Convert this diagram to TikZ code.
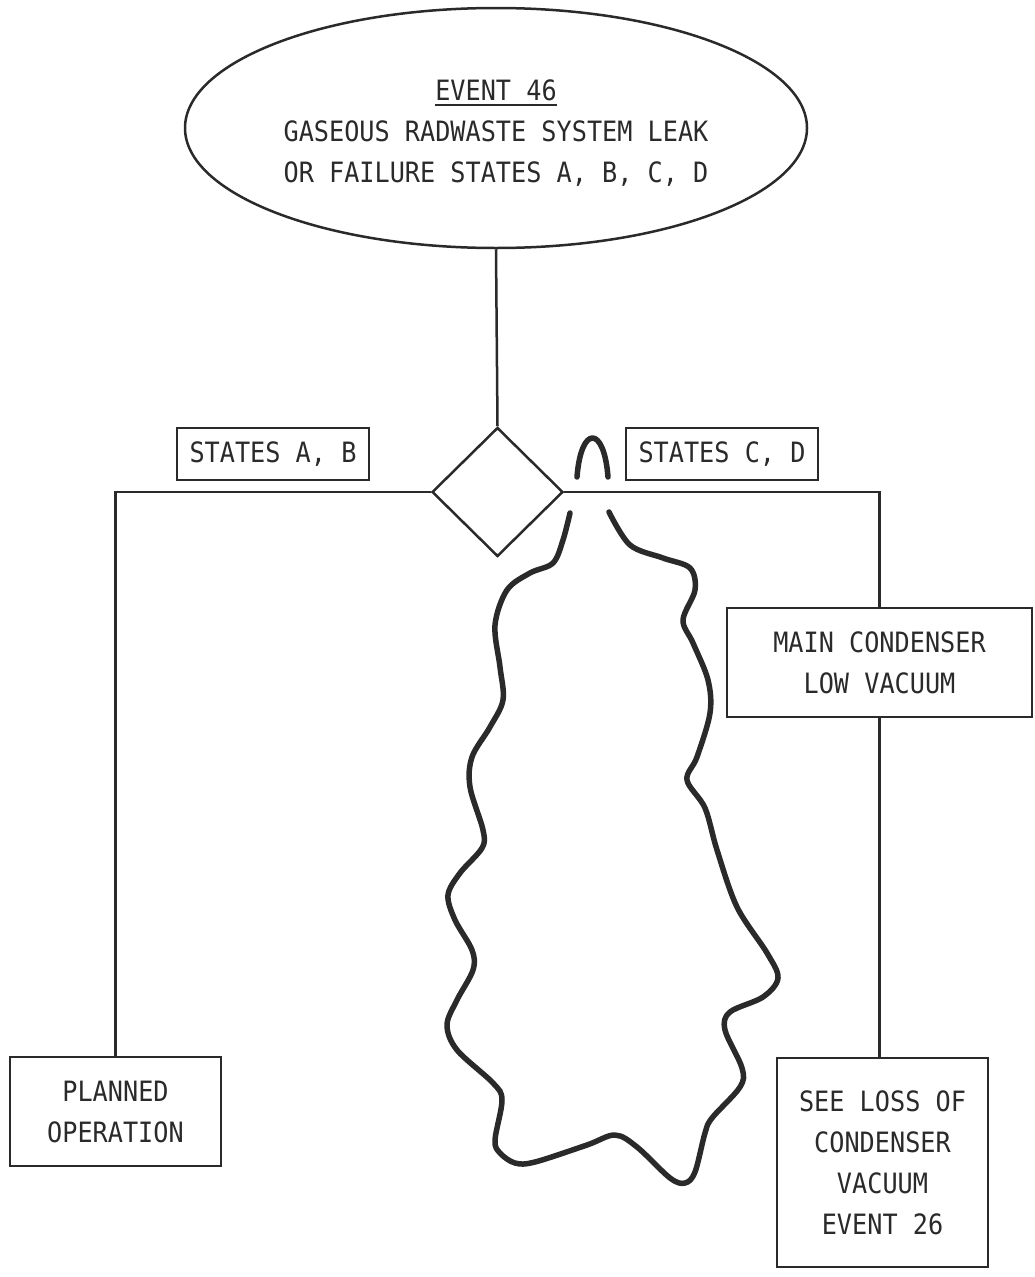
\documentclass[tikz,border=0pt]{standalone}
\usepackage{fontspec}
\usetikzlibrary{shapes.geometric}
\newfontfamily\plotfont[FakeStretch=0.9]{DejaVu Sans Mono}
\definecolor{ink}{HTML}{2A2A2A}
% underlined heading line
\newcommand\evunderline[1]{\setbox0\hbox{#1}\rlap{\rule[-6pt]{\wd0}{2.2pt}}\box0}
\begin{document}
\begin{tikzpicture}[x=1pt,y=-1pt,
  every node/.style={font=\plotfont\fontsize{28}{41}\selectfont, text=ink},
  frame/.style={draw=ink, line width=2.5pt, inner sep=0pt, align=center},
  link/.style={draw=ink, line width=2.5pt},
  cut/.style={draw=ink, line width=5.5pt, line cap=round, line join=round}]
\useasboundingbox (0,0) rectangle (1034,1277);
\fill[white] (0,0) rectangle (1034,1277);

% event and decision gate
\node[frame, ellipse, minimum width=622pt, minimum height=240pt] (event) at (496,128)
  {\raisebox{-5pt}[\height][\depth]{\begin{tabular}{@{}c@{}}\evunderline{EVENT 46}\\GASEOUS RADWASTE SYSTEM LEAK\\OR FAILURE STATES A, B, C, D\end{tabular}}};
\node[frame, diamond, minimum width=131pt, minimum height=129pt] (gate) at (497.5,492) {};

% branch labels
\node[frame, minimum width=192pt, minimum height=52pt] (ab) at (273,454) {STATES A, B};
\node[frame, minimum width=192pt, minimum height=52pt] (cd) at (722,454) {STATES C, D};

% outcome boxes
\node[frame, minimum width=305pt, minimum height=109pt] (cond) at (879.5,662.5) {MAIN CONDENSER\\LOW VACUUM};
\node[frame, minimum width=211pt, minimum height=109pt] (planned) at (115.5,1111.5) {PLANNED\\OPERATION};
\node[frame, minimum width=211pt, minimum height=209pt] (seeloss) at (882.5,1162.5) {SEE LOSS OF\\CONDENSER\\VACUUM\\EVENT 26};

% connectors
\draw[link] (event.south) -- (gate.north);
\draw[link] (gate.west) -| (planned.north);
\draw[link] (gate.east) -| (cond.north);
\draw[link] (cond.south) -- (seeloss.north -| cond.south);

% break mark over the line
\draw[cut] (577,477) .. controls (581,425) and (604,425) .. (608,477);

% torn-off region below the gate
\draw[cut] plot[smooth, tension=0.55] coordinates {
  (570,513) (563,540) (553,563) (530,573) (507,590) (495,625) (500,667)
  (503,700) (490,727) (472,757) (470,787) (483,830) (482,848) (460,873)
  (448,895) (455,920) (472,950) (473,970) (457,1000) (447,1025) (457,1050)
  (493,1083) (502,1100) (495,1140) (500,1153) (515,1163) (535,1162)
  (587,1145) (615,1135) (637,1147) (670,1178) (685,1183) (695,1172)
  (705,1133) (712,1118) (740,1087) (742,1068) (725,1030) (730,1012)
  (763,997) (778,978) (767,953) (737,907) (717,850) (705,808) (687,780)
  (697,757) (710,713) (708,680) (693,643) (683,620) (695,590) (690,568)
  (663,558) (630,545) (609,512)};
\end{tikzpicture}
\end{document}
